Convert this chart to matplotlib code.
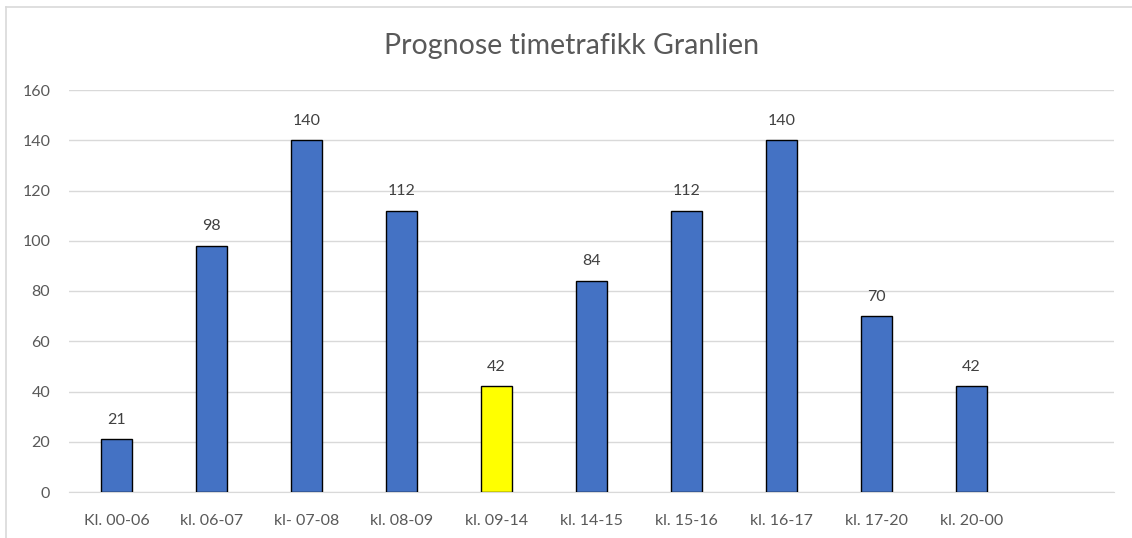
import matplotlib.pyplot as plt
from matplotlib.lines import Line2D

categories = ['Kl. 00-06', 'kl. 06-07', 'kl- 07-08', 'kl. 08-09', 'kl. 09-14',
              'kl. 14-15', 'kl. 15-16', 'kl. 16-17', 'kl. 17-20', 'kl. 20-00']
values = [21, 98, 140, 112, 42, 84, 112, 140, 70, 42]
colors = ['#4472C4'] * 4 + ['#FFFF00'] + ['#4472C4'] * 5

plt.rcParams['font.family'] = ['Lato', 'DejaVu Sans']

fig = plt.figure(figsize=(11.32, 5.38), dpi=100)
ax = fig.add_axes([69 / 1132, 1 - 492 / 538, (1114 - 69) / 1132, (492 - 90) / 538])

x = range(len(categories))
bars = ax.bar(x, values, width=0.33, color=colors, edgecolor='black', linewidth=1, zorder=3)
for b, v in zip(bars, values):
    ax.text(b.get_x() + b.get_width() / 2, v + 5, str(v), ha='center', va='bottom',
            fontsize=11.5, color='#404040')

ax.set_xlim(-0.5, 10.5)
ax.set_ylim(0, 160)
ax.set_yticks(range(0, 161, 20))
ax.set_xticks(list(x))
ax.set_xticklabels(categories)
ax.tick_params(axis='both', length=0, labelsize=11.5, labelcolor='#595959')
ax.tick_params(axis='x', pad=16)
ax.tick_params(axis='y', pad=13.5)
ax.grid(axis='y', color='#d9d9d9', linewidth=1, zorder=0)
for s in ['top', 'right', 'left']:
    ax.spines[s].set_visible(False)
ax.spines['bottom'].set_color('#d9d9d9')
ax.spines['bottom'].set_zorder(1)

fig.text(0.505, 1 - 46 / 538, 'Prognose timetrafikk Granlien', ha='center', va='center',
         fontsize=20.5, color='#595959')

# chart frame
fig.add_artist(Line2D([6 / 1132, 1], [1 - 7 / 538] * 2, color='#d9d9d9', linewidth=1.2,
                      transform=fig.transFigure))
fig.add_artist(Line2D([6 / 1132] * 2, [0, 1 - 7 / 538], color='#d9d9d9', linewidth=1.2,
                      transform=fig.transFigure))

fig.savefig('out.png', dpi=100)
